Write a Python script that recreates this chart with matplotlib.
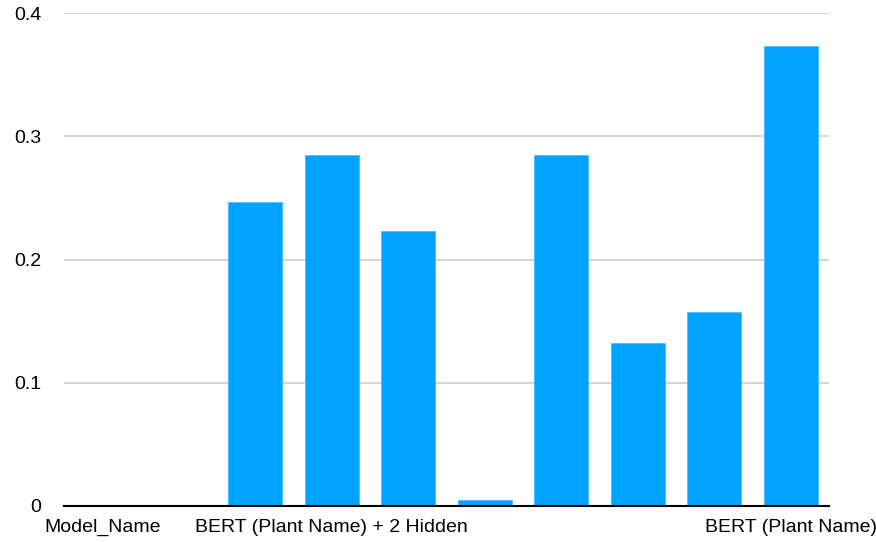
import matplotlib
matplotlib.use("Agg")
import matplotlib.pyplot as plt
import numpy as np

plt.rcParams['font.family'] = ['Liberation Sans', 'DejaVu Sans']

# Category axis labels (only some are shown along the axis)
categories = ["Model_Name", "", "", "BERT (Plant Name) + 2 Hidden", "", "", "", "", "", "BERT (Plant Name)"]
scores = [0.0, 0.0, 0.247, 0.285, 0.223, 0.0046, 0.285, 0.132, 0.157, 0.373]
y_ticks = [0, 0.1, 0.2, 0.3, 0.4]
y_tick_labels = ["0", "0.1", "0.2", "0.3", "0.4"]

fig = plt.figure(figsize=(8.76, 5.42), dpi=100)
ax = fig.add_axes([64 / 876, 36 / 542, 765 / 876, 493 / 542])

x = np.arange(len(categories))
ax.bar(x, scores, width=0.706, color="#00A2FF", edgecolor="#4DBDFF", linewidth=0.6, zorder=3)

ax.set_xlim(-0.5, len(categories) - 0.5)
ax.set_ylim(0, 0.4)
ax.set_yticks(y_ticks)
ax.set_yticklabels(y_tick_labels)
ax.set_xticks(x)
ax.set_xticklabels(categories)

ax.yaxis.grid(True, color="#CCCCCC", linewidth=1.2, zorder=0)
ax.set_axisbelow(True)
for side in ["top", "right", "left"]:
    ax.spines[side].set_visible(False)
ax.spines["bottom"].set_color("black")
ax.spines["bottom"].set_linewidth(1.5)
ax.spines["bottom"].set_zorder(4)

ax.tick_params(axis="both", length=0, labelsize=14, colors="black")
ax.tick_params(axis="y", pad=16.5)
ax.tick_params(axis="x", pad=9.5)
for lbl in ax.get_yticklabels():
    lbl.set_horizontalalignment("right")

fig.savefig("out.png", dpi=100, facecolor="white")
